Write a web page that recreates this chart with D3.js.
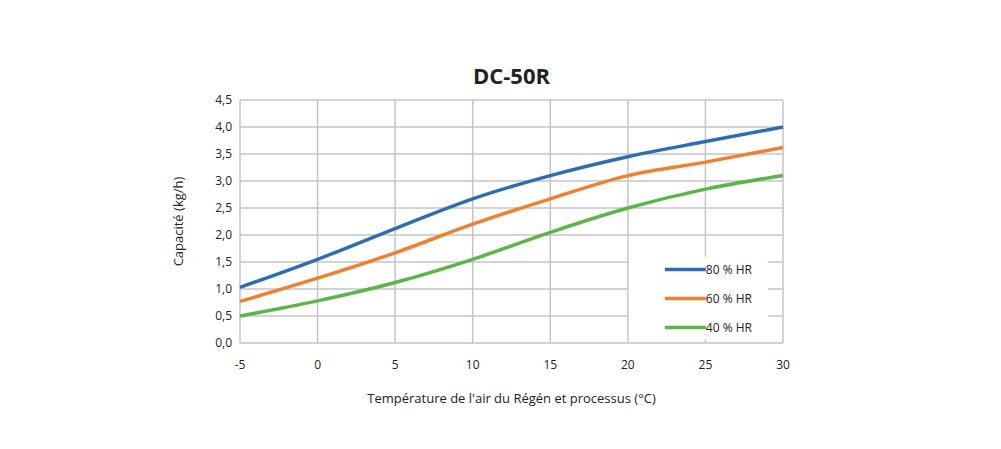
<!DOCTYPE html>
<html>
<head>
<meta charset="utf-8">
<script src="https://cdn.jsdelivr.net/npm/d3@7"></script>
<style>
  body { margin: 0; background: #fff; overflow: hidden; }
  text { font-family: "Open Sans", "Noto Sans", sans-serif; fill: #222; }
</style>
</head>
<body>
<div id="root"></div>
<script>
const temps = [-5, 0, 5, 10, 15, 20, 25, 30];
const hr80 = [1.03, 1.55, 2.12, 2.67, 3.1, 3.45, 3.73, 4.0];
const hr60 = [0.77, 1.2, 1.67, 2.2, 2.67, 3.1, 3.35, 3.62];
const hr40 = [0.5, 0.78, 1.12, 1.55, 2.05, 2.5, 2.85, 3.1];
const seriesNames = ["80 % HR", "60 % HR", "40 % HR"];
const seriesColors = ["#2e6db4", "#f0802f", "#5cb548"];
const yTicks = [0, 0.5, 1, 1.5, 2, 2.5, 3, 3.5, 4, 4.5];

const width = 1001, height = 449;
const margin = { top: 100, left: 240, right: 218, bottom: 106 };
const innerWidth = width - margin.left - margin.right;
const innerHeight = height - margin.top - margin.bottom;

const svg = d3.select("#root").append("svg")
  .attr("width", width).attr("height", height)
  .style("display", "block")
  .attr("viewBox", `0 0 ${width} ${height}`);

const g = svg.append("g").attr("transform", `translate(${margin.left}, ${margin.top})`);

const xScale = d3.scaleLinear().domain([-5, 30]).range([0, innerWidth]);
const yScale = d3.scaleLinear().domain([0, 4.5]).range([innerHeight, 0]);
const fmt = (v) => v.toFixed(1).replace(".", ",");

// grid
g.selectAll(".hgrid").data(yTicks).join("line")
  .attr("x1", 0).attr("x2", innerWidth)
  .attr("y1", (d) => yScale(d)).attr("y2", (d) => yScale(d))
  .attr("stroke", "#c4c4c4").attr("stroke-width", 1.5);
g.selectAll(".vgrid").data(temps).join("line")
  .attr("x1", (d) => xScale(d)).attr("x2", (d) => xScale(d))
  .attr("y1", 0).attr("y2", innerHeight)
  .attr("stroke", "#c4c4c4").attr("stroke-width", 1.5);

// tick labels
g.selectAll(".ylab").data(yTicks).join("text")
  .attr("x", -8).attr("y", (d) => yScale(d)).attr("dy", "0.35em")
  .attr("text-anchor", "end").attr("font-size", 12).text(fmt);
g.selectAll(".xlab").data(temps).join("text")
  .attr("x", (d) => xScale(d)).attr("y", innerHeight + 26)
  .attr("text-anchor", "middle").attr("font-size", 12).text((d) => d);

// lines
const data = [hr80, hr60, hr40];
const line = d3.line()
  .x((d, i) => xScale(temps[i]))
  .y((d) => yScale(d))
  .curve(d3.curveMonotoneX);
g.selectAll(".series").data(data).join("path")
  .attr("d", line).attr("fill", "none")
  .attr("stroke", (d, i) => seriesColors[i]).attr("stroke-width", 3.5);

// legend
const legend = g.append("g").attr("transform", `translate(${xScale(20) + 1}, ${yScale(1.6)})`);
legend.append("rect").attr("x", 0).attr("y", 0).attr("width", 139).attr("height", 83).attr("fill", "#fff");
seriesNames.forEach((name, i) => {
  const y = 13 + i * 29;
  legend.append("line").attr("x1", 36).attr("x2", 77).attr("y1", y).attr("y2", y)
    .attr("stroke", seriesColors[i]).attr("stroke-width", 3.5);
  legend.append("text").attr("x", 77).attr("y", y).attr("dy", "0.35em")
    .attr("font-size", 12).text(name);
});

// titles
svg.append("text").attr("x", margin.left + innerWidth / 2).attr("y", 84)
  .attr("text-anchor", "middle").attr("font-size", 22).attr("font-weight", "bold").text("DC-50R");
svg.append("text").attr("x", margin.left + innerWidth / 2).attr("y", 403)
  .attr("text-anchor", "middle").attr("font-size", 13)
  .text("Température de l'air du Régén et processus (°C)");
svg.append("text")
  .attr("transform", `translate(183, ${margin.top + innerHeight / 2}) rotate(-90)`)
  .attr("text-anchor", "middle").attr("font-size", 13).text("Capacité (kg/h)");
</script>
</body>
</html>
